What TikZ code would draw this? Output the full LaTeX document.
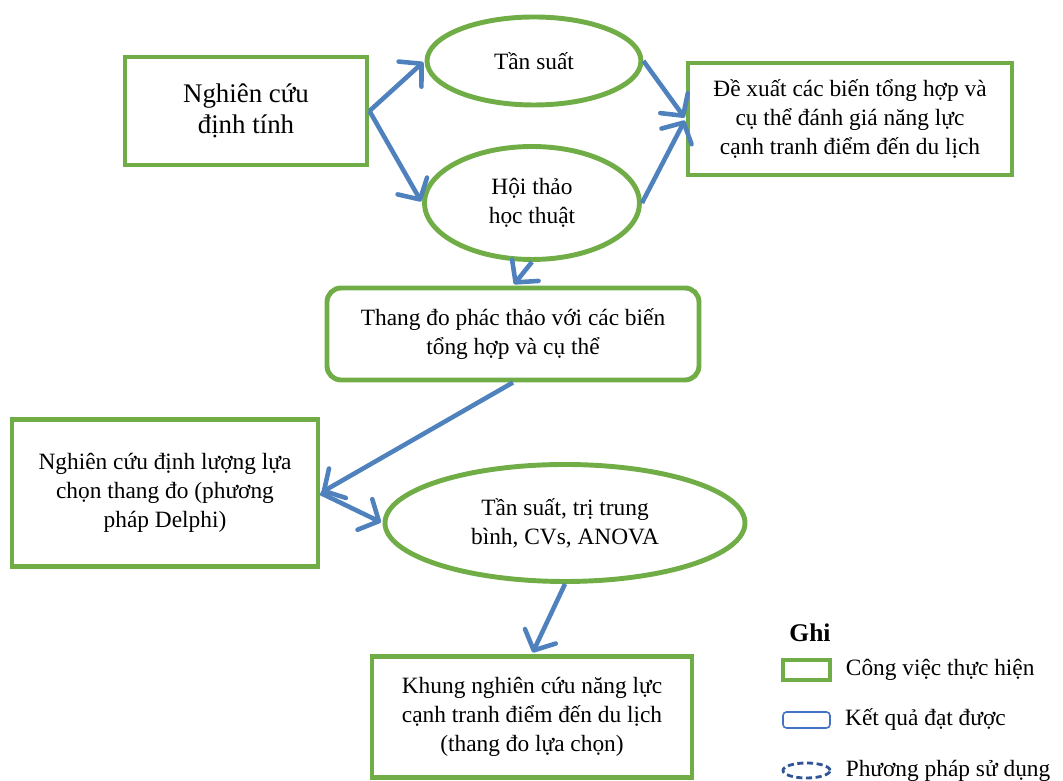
\documentclass[tikz,border=0pt]{standalone}
\usepackage{fontspec}
\setmainfont{Liberation Serif}
\usepackage{xcolor}
\usepackage{tikz}
\usetikzlibrary{shapes.geometric, arrows.meta, positioning}
\definecolor{workgreen}{RGB}{112, 173, 71}
\definecolor{flowblue}{RGB}{79, 129, 189}
\definecolor{resultblue}{RGB}{68, 114, 196}
\definecolor{methodblue}{RGB}{47, 85, 151}

\begin{document}
\begin{tikzpicture}[
    box/.style={draw=workgreen, line width=2.8pt, minimum width=6cm, minimum height=2cm, align=center, font=\fontsize{13.3}{16.5}\selectfont},
    rbox/.style={box, rounded corners=8pt},
    oval/.style={draw=workgreen, line width=2.8pt, ellipse, inner sep=0pt, align=center, font=\fontsize{13.3}{16.5}\selectfont},
    arrow/.style={-{Straight Barb[angle=95:4.6mm, line width=2.6pt, line cap=round, line join=round]}, line width=2.6pt, flowblue, shorten >=1pt},
    legtext/.style={right=0.28cm of #1, anchor=west, inner sep=0pt, font=\fontsize{13.3}{15}\selectfont}
]
    \useasboundingbox (0,0) rectangle (21.26,15.62);

    \node[box, minimum width=4.84cm, minimum height=2.16cm, font=\fontsize{15.3}{18}\selectfont] (dinhtinh) at (4.92,13.40) {Nghiên cứu\\định tính};
    \node[oval, minimum width=4.28cm, minimum height=1.76cm] (tansuat) at (10.68,14.40) {Tần suất};
    \node[oval, minimum width=4.30cm, minimum height=2.26cm] (hoithao) at (10.64,11.56) {Hội thảo\\học thuật};
    \node[box, minimum width=6.48cm, minimum height=2.24cm] (dexuat) at (17.00,13.24) {Đề xuất các biến tổng hợp và\\cụ thể đánh giá năng lực\\cạnh tranh điểm đến du lịch};
    \node[rbox, minimum width=7.44cm, minimum height=1.84cm] (thangdo) at (10.26,8.94) {Thang đo phác thảo với các biến\\tổng hợp và cụ thể};
    \node[box, minimum width=6.12cm, minimum height=2.94cm] (dinhluong) at (3.30,5.76) {Nghiên cứu định lượng lựa\\chọn thang đo (phương\\pháp Delphi)};
    \node[oval, minimum width=7.20cm, minimum height=2.34cm] (thongke) at (11.30,5.16) {Tần suất, trị trung\\bình, CVs, ANOVA};
    \node[box, minimum width=6.40cm, minimum height=2.42cm] (khung) at (10.64,1.28) {Khung nghiên cứu năng lực\\cạnh tranh điểm đến du lịch\\(thang đo lựa chọn)};

    \draw[arrow] (dinhtinh.east) -- (tansuat.west);
    \draw[arrow] (dinhtinh.east) -- (hoithao.west);
    \draw[arrow] (tansuat.east) -- (dexuat.west);
    \draw[arrow] (hoithao.east) -- (dexuat.west);
    \draw[arrow] (hoithao.south) -- (thangdo.north);
    \draw[arrow] (thangdo.south) -- (dinhluong.east);
    \draw[arrow] (dinhluong.east) -- (thongke.west);
    \draw[arrow] (thongke.south) -- (khung.north);

    % legend
    \node[font=\fontsize{14.5}{16}\selectfont\bfseries] (ghi) at (16.20,2.96) {Ghi};
    \node[draw=workgreen, line width=1.8pt, minimum width=0.94cm, minimum height=0.40cm, inner sep=0pt] (legwork) at (16.13,2.22) {};
    \node[draw=resultblue, line width=0.9pt, rounded corners=2pt, minimum width=0.94cm, minimum height=0.32cm, inner sep=0pt] (legresult) at (16.13,1.22) {};
    \node[draw=methodblue, line width=1.6pt, dash pattern=on 3.5pt off 2pt, ellipse, minimum width=0.94cm, minimum height=0.30cm, inner sep=0pt] (legmethod) at (16.13,0.21) {};
    \node[legtext=legwork] {Công việc thực hiện};
    \node[legtext=legresult] {Kết quả đạt được};
    \node[legtext=legmethod] {Phương pháp sử dụng};
\end{tikzpicture}
\end{document}
